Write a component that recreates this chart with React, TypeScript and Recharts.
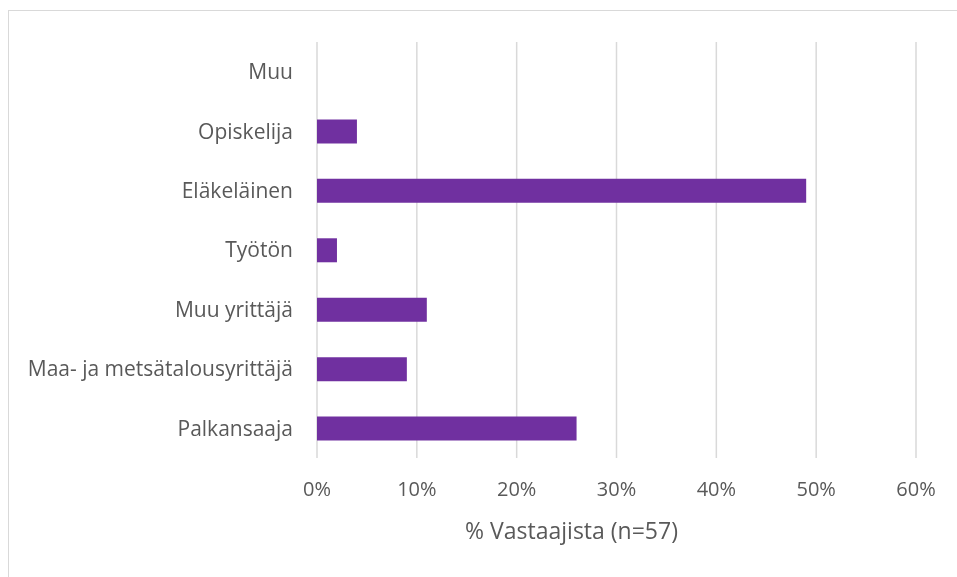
import { BarChart, Bar, XAxis, YAxis, CartesianGrid } from "recharts";

const categories = [
  "Muu",
  "Opiskelija",
  "Eläkeläinen",
  "Työtön",
  "Muu yrittäjä",
  "Maa- ja metsätalousyrittäjä",
  "Palkansaaja",
];
const shares = [0, 4, 49, 2, 11, 9, 26];
const xTicks = [0, 10, 20, 30, 40, 50, 60];
const xTitle = "% Vastaajista (n=57)";

const data = categories.map((name, i) => ({ name, value: shares[i] }));

const textColor = "#595959";
const gridColor = "#d9d9d9";

export default function App() {
  return (
    <div style={{ fontFamily: "'Open Sans', sans-serif" }}>
      {/* chart frame, only top and left edges are visible in the picture */}
      <div
        style={{
          position: "fixed",
          top: 10,
          left: 8,
          width: 980,
          height: 600,
          border: `1px solid ${gridColor}`,
          pointerEvents: "none",
        }}
      />
      <BarChart
        width={949}
        height={569}
        data={data}
        layout="vertical"
        margin={{ top: 34, right: 41, bottom: 34, left: 0 }}
        barSize={24}
      >
        <CartesianGrid
          horizontal={false}
          stroke={gridColor}
          strokeWidth={1.5}
        />
        <XAxis
          type="number"
          domain={[0, 60]}
          ticks={xTicks}
          tickFormatter={(v: number) => `${v}%`}
          axisLine={false}
          tickLine={false}
          tickSize={0}
          tickMargin={24}
          height={85}
          tick={{ fill: textColor, fontSize: 20 }}
          label={{
            value: xTitle,
            position: "insideBottom",
            offset: 4,
            dx: -45,
            fill: textColor,
            fontSize: 23,
          }}
        />
        <YAxis
          type="category"
          dataKey="name"
          width={309}
          axisLine={false}
          tickLine={false}
          tickSize={0}
          tickMargin={24}
          interval={0}
          tick={{ fill: textColor, fontSize: 21 }}
        />
        <Bar dataKey="value" fill="#7030a0" isAnimationActive={false} />
      </BarChart>
    </div>
  );
}
